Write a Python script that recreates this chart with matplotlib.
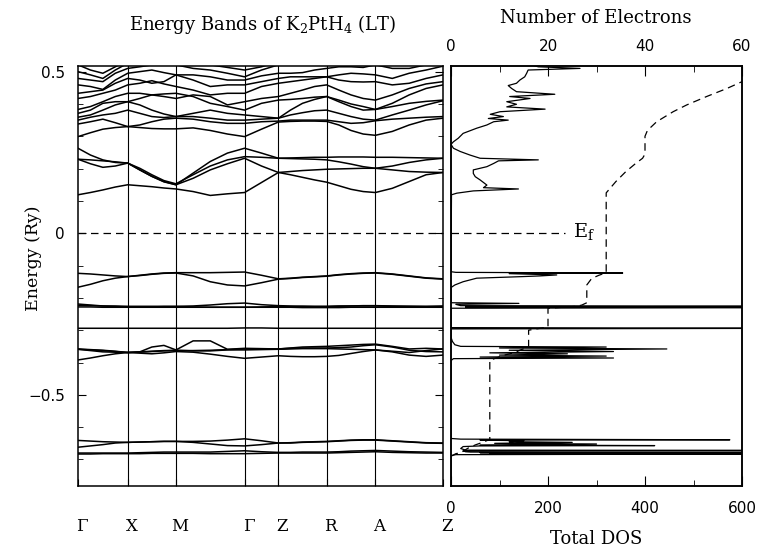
import numpy as np
import matplotlib
matplotlib.use("Agg")
import matplotlib.pyplot as plt
from matplotlib.ticker import MultipleLocator
from matplotlib.transforms import ScaledTranslation

# --- k path -------------------------------------------------------------
sym_labels = ["Γ", "X", "M", "Γ", "Z", "R", "A", "Z"]
sym_k = [0.0, 1.0, 1.97, 3.35, 4.03, 5.00, 5.98, 7.34]
seg_samples = [4, 4, 4, 2, 4, 4, 4]

# --- bands (mRy), read at the 27 k samples -------------------------------
band_pt1 = [-683, -683, -682, -682, -682, -682, -681, -681, -681, -681, -682, -682, -682, -681, -680, -680, -680, -680, -680, -679, -678, -677, -676, -678, -679, -680, -680]
band_pt2 = [-680, -680, -680, -680, -680, -679, -678, -677, -677, -677, -677, -675, -673, -676, -678, -678, -677, -677, -677, -676, -674, -673, -672, -674, -676, -677, -678]
band_pt3 = [-662, -658, -654, -649, -647, -646, -645, -644, -644, -647, -652, -657, -658, -654, -649, -649, -647, -646, -645, -643, -641, -640, -640, -643, -646, -649, -650]
band_pt4 = [-641, -643, -645, -646, -647, -646, -645, -644, -644, -644, -643, -640, -636, -642, -649, -648, -646, -645, -644, -642, -640, -639, -639, -642, -645, -648, -649]

band_h1 = [-392, -386, -379, -373, -369, -371, -373, -370, -366, -368, -374, -381, -387, -383, -379, -381, -382, -382, -381, -378, -372, -366, -361, -367, -377, -381, -377]
band_h2 = [-359, -363, -367, -368, -369, -367, -365, -363, -362, -364, -364, -361, -361, -360, -359, -358, -357, -357, -357, -358, -359, -360, -361, -365, -369, -363, -358]
band_h3 = [-359, -361, -363, -366, -369, -367, -352, -347, -361, -333, -333, -359, -356, -357, -358, -355, -352, -351, -350, -348, -346, -344, -343, -350, -358, -356, -358]
band_h4 = [-358, -360, -362, -365, -369, -368, -366, -364, -363, -363, -362, -360, -358, -358, -358, -356, -355, -355, -355, -354, -352, -348, -345, -352, -362, -366, -367]

band_s1 = [-294, -294, -294, -294, -294, -294, -294, -294, -294, -294, -294, -294, -293, -293, -294, -294, -294, -294, -294, -294, -294, -294, -294, -294, -294, -294, -294]

band_d1 = [-223, -224, -225, -225, -226, -226, -226, -226, -226, -225, -222, -218, -216, -221, -224, -225, -226, -227, -227, -226, -225, -224, -224, -225, -226, -226, -225]
band_d2 = [-228, -228, -229, -229, -229, -229, -229, -229, -229, -229, -229, -229, -229, -229, -229, -229, -230, -230, -230, -230, -229, -229, -229, -229, -229, -229, -229]
band_d3 = [-219, -222, -225, -227, -228, -228, -228, -227, -227, -228, -229, -229, -229, -228, -227, -227, -226, -226, -226, -225, -225, -225, -225, -226, -226, -227, -227]

band_p1 = [-167, -158, -147, -139, -134, -131, -127, -124, -123, -132, -150, -160, -163, -153, -142, -140, -137, -135, -133, -129, -126, -124, -123, -127, -133, -139, -142]
band_p2 = [-124, -126, -129, -132, -134, -130, -126, -123, -122, -122, -122, -121, -120, -130, -141, -139, -136, -134, -132, -128, -125, -123, -122, -126, -132, -138, -141]

band_c1 = [119, 126, 134, 143, 150, 147, 144, 140, 137, 129, 117, 122, 126, 157, 188, 181, 173, 165, 158, 147, 136, 129, 126, 139, 160, 181, 188]
band_c2 = [229, 215, 204, 208, 217, 196, 176, 159, 150, 170, 196, 215, 232, 208, 188, 191, 194, 196, 198, 199, 200, 201, 201, 196, 191, 189, 188]
band_c3 = [263, 242, 227, 219, 217, 196, 176, 160, 150, 186, 222, 248, 263, 248, 232, 231, 230, 229, 227, 221, 214, 206, 201, 208, 219, 227, 232]
band_c4 = [229, 227, 224, 221, 217, 201, 181, 163, 153, 181, 208, 227, 237, 235, 232, 233, 234, 235, 235, 236, 236, 236, 235, 235, 234, 233, 232]

band_u1 = [299, 311, 322, 327, 330, 327, 324, 323, 323, 326, 318, 307, 299, 322, 344, 346, 347, 347, 346, 335, 318, 307, 303, 315, 335, 350, 356]
band_u2 = [338, 345, 353, 342, 330, 335, 345, 353, 356, 353, 345, 340, 340, 345, 347, 350, 350, 350, 350, 345, 340, 342, 348, 353, 356, 359, 361]
band_u3 = [350, 359, 366, 371, 381, 371, 361, 358, 361, 361, 356, 350, 350, 353, 356, 366, 373, 379, 381, 371, 361, 353, 350, 366, 381, 397, 410]
band_u4 = [359, 366, 381, 397, 407, 397, 381, 369, 361, 371, 381, 371, 366, 361, 356, 381, 402, 414, 423, 407, 392, 381, 383, 392, 402, 408, 412]
band_u5 = [371, 381, 402, 407, 407, 417, 428, 431, 433, 423, 402, 392, 381, 402, 412, 414, 417, 421, 423, 412, 400, 392, 383, 402, 428, 448, 459]
band_u6 = [383, 392, 407, 423, 433, 433, 428, 423, 417, 428, 423, 397, 407, 417, 423, 433, 443, 454, 459, 443, 428, 417, 412, 428, 448, 462, 469]
band_u7 = [417, 423, 433, 443, 459, 464, 472, 462, 454, 443, 428, 433, 433, 454, 464, 469, 474, 479, 484, 474, 469, 468, 469, 459, 464, 479, 490]
band_u8 = [433, 438, 443, 464, 479, 474, 464, 469, 490, 474, 454, 459, 459, 469, 479, 484, 484, 484, 484, 490, 495, 493, 490, 479, 495, 505, 517]
band_u9 = [459, 454, 445, 474, 495, 500, 505, 497, 490, 490, 484, 474, 474, 487, 495, 495, 497, 505, 510, 515, 515, 513, 521, 510, 510, 521, 531]
band_u10 = [479, 474, 469, 495, 510, 515, 521, 521, 521, 510, 505, 495, 484, 505, 521, 524, 526, 528, 531, 531, 531, 531, 531, 528, 526, 531, 536]
band_u11 = [500, 490, 479, 505, 526, 531, 536, 536, 536, 531, 521, 513, 505, 515, 531, 536, 541, 541, 541, 541, 541, 541, 541, 541, 541, 541, 541]
band_u12 = [521, 505, 495, 515, 536, 546, 551, 551, 546, 536, 531, 526, 526, 536, 546, 550, 555, 555, 555, 555, 555, 555, 550, 545, 545, 550, 555]

bands = [band_pt1, band_pt2, band_pt3, band_pt4, band_h1, band_h2, band_h3, band_h4,
         band_s1, band_d1, band_d2, band_d3, band_p1, band_p2,
         band_c1, band_c2, band_c3, band_c4,
         band_u1, band_u2, band_u3, band_u4, band_u5, band_u6, band_u7, band_u8,
         band_u9, band_u10, band_u11, band_u12]

# --- total DOS (states/Ry) vs energy (Ry) --------------------------------
dos_energy = [-0.782, -0.688, -0.685, -0.683, -0.682, -0.681, -0.679, -0.678, -0.677, -0.676,
              -0.673, -0.672, -0.671, -0.666, -0.660, -0.658, -0.657, -0.655, -0.652, -0.650,
              -0.647, -0.645, -0.642, -0.640, -0.639, -0.637, -0.635,
              -0.394, -0.388, -0.386, -0.383, -0.380, -0.377, -0.373, -0.370, -0.366, -0.362,
              -0.358, -0.355, -0.352, -0.350, -0.345, -0.335, -0.322,
              -0.296, -0.294, -0.292, -0.232, -0.230, -0.228, -0.226, -0.224, -0.220, -0.217, -0.215,
              -0.168, -0.160, -0.150, -0.139, -0.134, -0.132, -0.129, -0.125, -0.123, -0.121, -0.119,
              0.119, 0.124, 0.131, 0.137, 0.141, 0.149, 0.165, 0.175, 0.185, 0.196, 0.206, 0.216,
              0.224, 0.227, 0.232, 0.242, 0.253, 0.263, 0.275, 0.283, 0.294, 0.309, 0.325, 0.335,
              0.345, 0.350, 0.355, 0.361, 0.368, 0.376, 0.384, 0.391, 0.399, 0.407, 0.417, 0.423,
              0.430, 0.438, 0.448, 0.457, 0.464, 0.474, 0.484, 0.495, 0.505, 0.510, 0.515, 0.519]
dos_states = [0, 0, 10, 700, 80, 700, 60, 700, 40, 30,
              25, 700, 30, 20, 25, 60, 420, 60, 300, 90,
              250, 120, 150, 60, 575, 20, 0,
              0, 5, 335, 60, 320, 100, 240, 80, 335, 120,
              445, 100, 320, 20, 8, 3, 0,
              0, 800, 0, 0, 800, 30, 800, 20, 10, 140, 0,
              0, 8, 25, 53, 150, 184, 218, 120, 354, 10, 0,
              1, 12, 46, 139, 67, 74, 60, 50, 46, 46, 74, 88,
              98, 180, 60, 39, 19, 5, 0, 5, 15, 25, 53, 74,
              88, 118, 77, 108, 81, 101, 194, 115, 135, 115, 163, 121,
              214, 135, 125, 118, 135, 142, 152, 156, 159, 266, 180, 170]

# --- integrated number of electrons --------------------------------------
elec_energy = [-0.690, -0.682, -0.679, -0.665, -0.655, -0.647, -0.638, -0.393, -0.385, -0.377,
               -0.370, -0.360, -0.352, -0.300, -0.290, -0.232, -0.226, -0.222, -0.215, -0.160,
               -0.140, -0.130, -0.122, 0.125, 0.160, 0.190, 0.215, 0.232, 0.245, 0.300,
               0.318, 0.345, 0.376, 0.397, 0.423, 0.448, 0.469]
elec_count = [0, 1, 2, 3.5, 5, 6.5, 8, 8, 9.5, 11,
              13, 14.5, 16, 16, 20, 20, 26, 27, 28, 28,
              29, 30.5, 32, 32, 34, 36, 38, 39.5, 40, 40,
              40.5, 42.4, 45.8, 48.6, 52.7, 56.9, 60]

ef_dos_end = 235

plt.rcParams["mathtext.fontset"] = "dejavuserif"
serif = "DejaVu Serif"
W, H = 760, 548
fig = plt.figure(figsize=(7.6, 5.48), dpi=100)
bottom = 1 - 486 / H
height = (486 - 65.5) / H
ax1 = fig.add_axes([78 / W, bottom, 365 / W, height])
ax2 = fig.add_axes([451 / W, bottom, 291 / W, height])
ylim = (-0.782, 0.519)
dash = (0, (6, 4))

# band structure
k_grid = np.concatenate([np.linspace(sym_k[i], sym_k[i + 1], n, endpoint=False)
                         for i, n in enumerate(seg_samples)] + [[sym_k[-1]]])
for band in bands:
    ax1.plot(k_grid, np.array(band) / 1000, color="k", lw=1.1, solid_joinstyle="round")
for k in sym_k[1:-1]:
    ax1.axvline(k, color="k", lw=0.8)
ax1.axhline(0, color="k", lw=0.9, ls=dash)
ax1.set_xlim(sym_k[0], sym_k[-1])
ax1.set_ylim(*ylim)
ax1.yaxis.set_major_locator(MultipleLocator(0.5))
ax1.yaxis.set_minor_locator(MultipleLocator(0.1))
ax1.set_yticks([0.5, 0, -0.5], ["0.5", "0", "\u22120.5"])
ax1.tick_params(axis="y", which="both", direction="in", left=True, right=True, labelsize=11, pad=9.5)
ax1.tick_params(axis="y", which="major", length=6)
ax1.tick_params(axis="y", which="minor", length=3.5)
ax1.set_xticks(sym_k[1:-1], minor=True)
ax1.set_xticks(sym_k, sym_labels)
ax1.tick_params(axis="x", which="both", direction="in", length=5, pad=23, labelsize=12)
for lab in ax1.get_xticklabels():
    lab.set_family(serif)
    lab.set_transform(lab.get_transform() + ScaledTranslation(4 / 100, 0, fig.dpi_scale_trans))

# DOS panel
ax2.plot(dos_states, dos_energy, color="k", lw=0.9)
ax2.plot([0, ef_dos_end], [0, 0], color="k", lw=0.9, ls=dash)
ax2.set_xlim(0, 600)
ax2.set_ylim(*ylim)
ax2.set_yticks([])
ax2.xaxis.set_major_locator(MultipleLocator(200))
ax2.xaxis.set_minor_locator(MultipleLocator(100))
ax2.tick_params(axis="x", which="both", direction="in", labelsize=11, pad=11)
ax2.tick_params(axis="x", which="major", length=7)
ax2.tick_params(axis="x", which="minor", length=4)
ax2.text(251, 0.004, "E$_\\mathrm{f}$", family=serif, fontsize=14, va="center", ha="left")

ax3 = ax2.twiny()
ax3.plot(elec_count, elec_energy, color="k", lw=0.9, ls=dash)
ax3.set_xlim(0, 60)
ax3.set_ylim(*ylim)
ax3.xaxis.set_major_locator(MultipleLocator(20))
ax3.xaxis.set_minor_locator(MultipleLocator(10))
ax3.tick_params(axis="x", which="both", direction="in", labelsize=11, pad=8.5)
ax3.tick_params(axis="x", which="major", length=7)
ax3.tick_params(axis="x", which="minor", length=4)

for ax in (ax1, ax2, ax3):
    for sp in ax.spines.values():
        sp.set_linewidth(1.1)

fig.text(262 / W, 1 - 25 / H, "Energy Bands of K$_2$PtH$_4$ (LT)", family=serif,
         fontsize=13, ha="center", va="center")
fig.text(596 / W, 1 - 18 / H, "Number of Electrons", family=serif, fontsize=13,
         ha="center", va="center")
fig.text(596 / W, 1 - 539 / H, "Total DOS", family=serif, fontsize=13,
         ha="center", va="center")
fig.text(33 / W, 1 - 258 / H, "Energy (Ry)", family=serif, fontsize=12.5,
         ha="center", va="center", rotation=90)

fig.savefig("out.png", dpi=100)
